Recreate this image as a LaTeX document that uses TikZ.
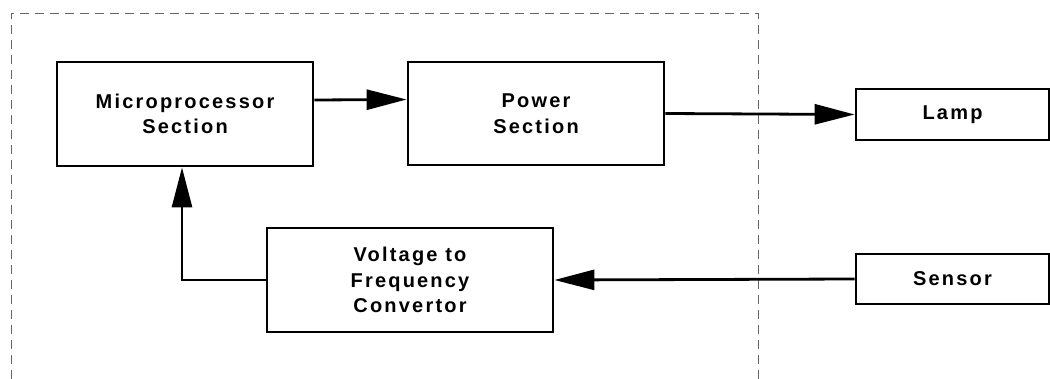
\documentclass[tikz,border=0pt]{standalone}
\usepackage{fontspec}
\setmainfont{Liberation Sans}[LetterSpace=11]
\usetikzlibrary{arrows.meta}
\begin{document}
\begin{tikzpicture}[x=1pt,y=-1pt,
  blk/.style={draw, line width=2.8pt, align=center, inner sep=0pt,
    font=\fontsize{20}{25.5}\selectfont\bfseries},
  arr/.style={line width=2.8pt, -{Triangle[length=40pt,width=20pt]}},
  frame/.style={draw=black!60, line width=0.8pt, dash pattern=on 9pt off 6pt}]
\useasboundingbox (0,0) rectangle (1050,379);
\draw[frame] (11,379) -- (11,13) -- (758,13) -- (758,379);
\node[blk, minimum width=256pt, minimum height=104pt] (micro) at (185,114) {Microprocessor\\Section};
\node[blk, minimum width=256pt, minimum height=103pt] (power) at (536,113.5) {Power\\Section};
\node[blk, minimum width=193pt, minimum height=51pt] (lamp) at (952.5,114.5) {Lamp};
\node[blk, minimum width=193pt, minimum height=50pt] (sensor) at (952.5,279) {Sensor};
\node[blk, minimum width=286pt, minimum height=104pt] (vtf) at (410,280) {Voltage to\\Frequency\\Convertor};
\draw[arr] ([yshift=14pt]micro.east) -- ([yshift=14pt]power.west);
\draw[arr] (power.east) -- (lamp.west);
\draw[arr] (sensor.west) -- (vtf.east);
\draw[arr] (vtf.west) -| ([xshift=-3pt]micro.south);
\end{tikzpicture}
\end{document}
